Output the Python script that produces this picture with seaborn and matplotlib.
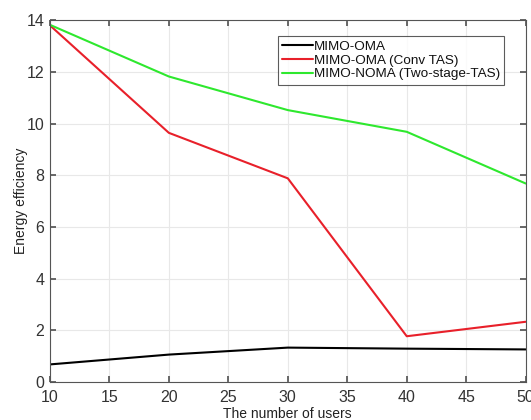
import matplotlib
matplotlib.use("Agg")
import matplotlib.pyplot as plt
import seaborn as sns
import pandas as pd

users = [10, 20, 30, 40, 50]
mimo_oma = [0.68, 1.06, 1.33, 1.29, 1.26]
mimo_oma_conv = [13.8, 9.64, 7.88, 1.77, 2.33]
mimo_noma_two = [13.82, 11.82, 10.52, 9.68, 7.68]
series_names = ["MIMO-OMA", "MIMO-OMA (Conv TAS)", "MIMO-NOMA (Two-stage-TAS)"]
colors = ["#000000", "#e8202a", "#2ee82e"]

df = pd.DataFrame({
    "users": users * 3,
    "ee": mimo_oma + mimo_oma_conv + mimo_noma_two,
    "series": [series_names[0]] * 5 + [series_names[1]] * 5 + [series_names[2]] * 5,
})

sns.set_theme(style="whitegrid")
plt.rcParams["font.family"] = ["Liberation Sans", "DejaVu Sans"]

fig = plt.figure(figsize=(5.31, 4.20), dpi=100)
ax = fig.add_axes([0.094, 0.0905, 0.896, 0.8615])
sns.lineplot(data=df, x="users", y="ee", hue="series", palette=colors,
             hue_order=series_names, linewidth=1.5, ax=ax)

ax.set_xlim(10, 50)
ax.set_ylim(0, 14)
ax.set_xticks(range(10, 51, 5))
ax.set_yticks(range(0, 15, 2))
ax.grid(True, color="#e8e8e8", linewidth=0.8)
for s in ax.spines.values():
    s.set_visible(True)
    s.set_color("#555555")
    s.set_linewidth(0.8)
ax.tick_params(axis="both", direction="in", length=4, color="#555555",
               labelsize=11.5, labelcolor="#333333", top=True, right=True,
               bottom=True, left=True)
ax.tick_params(axis="x", pad=6)
ax.tick_params(axis="y", pad=4)
ax.set_xlabel("The number of users", fontsize=10, color="#222222", labelpad=1)
ax.set_ylabel("Energy efficiency", fontsize=10, color="#222222", labelpad=-1)

leg = ax.legend(loc="upper right", bbox_to_anchor=(0.955, 0.955), fontsize=9.7,
                frameon=True, fancybox=False, edgecolor="#333333",
                handlelength=2.3, handletextpad=0.1, borderpad=0.3,
                labelspacing=0.1, borderaxespad=0)
leg.get_frame().set_linewidth(0.8)
for t in leg.get_texts():
    t.set_color("#111111")

fig.savefig("out.png", dpi=100)
